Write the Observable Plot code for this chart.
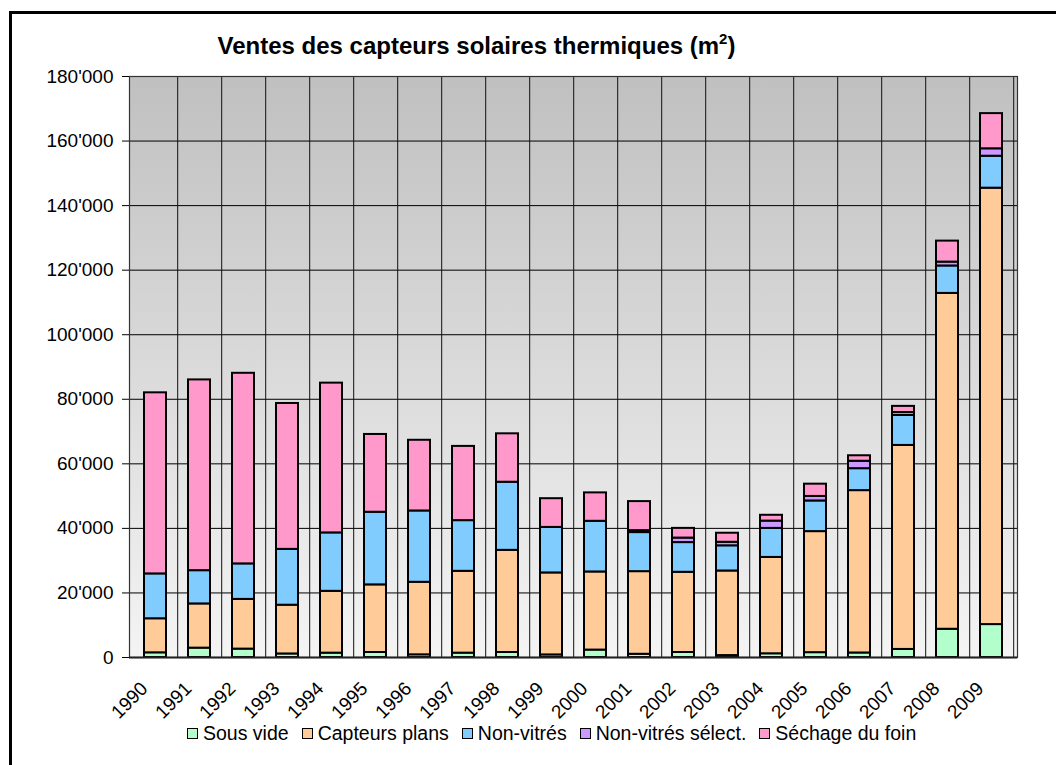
<!DOCTYPE html>
<html>
<head>
<meta charset="utf-8">
<script src="https://cdn.jsdelivr.net/npm/d3@7"></script>
<script src="https://cdn.jsdelivr.net/npm/@observablehq/plot@0.6"></script>
<style>
  html, body { margin: 0; padding: 0; background: #fff; overflow: hidden; width: 1056px; height: 765px; }
  body { position: relative; font-family: "Liberation Sans", Arial, sans-serif; }
  #border { position: absolute; left: 9px; top: 11px; width: 1200px; height: 900px; border: 3px solid #000; box-sizing: border-box; }
  #chart { position: absolute; left: 0; top: 0; }
  #title { position: absolute; left: 0; width: 953px; top: 34px; text-align: center; font-weight: bold; font-size: 24px; line-height: 24px; white-space: nowrap; color: #000; }
  #title sup { font-size: 15px; line-height: 0; vertical-align: 10px; }
  #legend { position: absolute; left: 187px; top: 724px; display: flex; align-items: center; font-size: 19.5px; line-height: 19px; white-space: nowrap; color: #000; }
  .item { display: flex; align-items: center; margin-right: 13px; }
  .sw { width: 9px; height: 9px; border: 1.5px solid #000; margin-right: 5px; }
</style>
</head>
<body>
<div id="border"></div>
<div id="chart"></div>
<div id="title">Ventes des capteurs solaires thermiques (m<sup>2</sup>)</div>
<div id="legend"></div>
<script>
const years = ["1990","1991","1992","1993","1994","1995","1996","1997","1998","1999","2000","2001","2002","2003","2004","2005","2006","2007","2008","2009"];
const series = ["Sous vide", "Capteurs plans", "Non-vitrés", "Non-vitrés sélect.", "Séchage du foin"];
const colors = ["#b3ffcc", "#ffcc99", "#80ccff", "#cc99ff", "#ff99cc"];

const sousVide        = [1450, 2900, 2600, 1100, 1350, 1550, 830, 1350, 1550, 800, 2300, 1000, 1550, 600, 1150, 1500, 1400, 2500, 8750, 10200];
const capteursPlans   = [10550, 13700, 15400, 15100, 19150, 20950, 22470, 25350, 31650, 25400, 24200, 25600, 24850, 26200, 29850, 37500, 50300, 63200, 104050, 135200];
const nonVitres       = [13900, 10300, 11000, 17300, 18100, 22500, 22100, 15700, 21100, 14100, 15700, 12100, 9200, 7800, 9000, 9500, 6800, 9300, 8500, 9900];
const nonVitresSelect = [0, 0, 0, 0, 0, 0, 0, 0, 0, 0, 0, 600, 1400, 1100, 2260, 1400, 2300, 900, 1200, 2300];
const sechageFoin     = [56100, 59100, 59050, 45200, 46400, 24100, 21900, 23000, 15000, 8900, 8800, 9000, 3000, 2800, 1800, 3800, 1700, 1900, 6500, 10900];

const yTicks = [0, 20000, 40000, 60000, 80000, 100000, 120000, 140000, 160000, 180000];

const seriesValues = [sousVide, capteursPlans, nonVitres, nonVitresSelect, sechageFoin];
const data = [];
years.forEach((y, i) => {
  series.forEach((s, j) => {
    const v = seriesValues[j][i];
    if (v > 0) data.push({year: y, series: s, value: v});
  });
});

const fmt = d3.formatLocale({decimal: ".", thousands: "'", grouping: [3], currency: ["", ""]}).format(",");

const W = 1056, H = 765;
const mL = 129, mR = 39, mT = 76, mB = 108;
const step = (W - mL - mR) / years.length;

const chart = Plot.plot({
  width: W, height: H,
  marginLeft: mL, marginRight: mR, marginTop: mT, marginBottom: mB,
  style: {fontFamily: '"Liberation Sans", Arial, sans-serif', fontSize: "19px", color: "#000", background: "transparent", overflow: "visible"},
  x: {type: "band", domain: years, paddingInner: 0.5, paddingOuter: 0.25, label: null},
  y: {domain: [0, 180000], label: null},
  color: {domain: series, range: colors},
  marks: [
    Plot.frame({fill: "url(#bgGrad)", stroke: null}),
    Plot.gridY(yTicks, {stroke: "#000", strokeOpacity: 1, strokeWidth: 1}),
    Plot.gridX({stroke: "#111", strokeOpacity: 1, strokeWidth: 1, dx: step / 2}),
    Plot.barY(data, {x: "year", y: "value", fill: "series", stroke: "#000", strokeWidth: 2, order: series}),
    Plot.frame({stroke: "#333", strokeWidth: 1.2}),
    Plot.ruleY([0], {stroke: "#222", strokeWidth: 2}),
    Plot.axisY(yTicks, {tickFormat: fmt, tickSize: 7, tickPadding: 9, stroke: "#000", fontSize: 19, label: null}),
    Plot.axisX({tickRotate: -45, tickSize: 0, tickPadding: 28, dx: -11, fontSize: 19, label: null})
  ]
});

const ns = "http://www.w3.org/2000/svg";
const defs = document.createElementNS(ns, "defs");
defs.innerHTML = '<linearGradient id="bgGrad" x1="0" y1="0" x2="0" y2="1"><stop offset="0" stop-color="#c0c0c0"/><stop offset="1" stop-color="#f4f4f4"/></linearGradient>';
chart.insertBefore(defs, chart.firstChild);
document.getElementById("chart").appendChild(chart);

const legend = document.getElementById("legend");
series.forEach((s, i) => {
  const item = document.createElement("div");
  item.className = "item";
  const sw = document.createElement("div");
  sw.className = "sw";
  sw.style.background = colors[i];
  const t = document.createElement("span");
  t.textContent = s;
  item.appendChild(sw);
  item.appendChild(t);
  legend.appendChild(item);
});
</script>
</body>
</html>
